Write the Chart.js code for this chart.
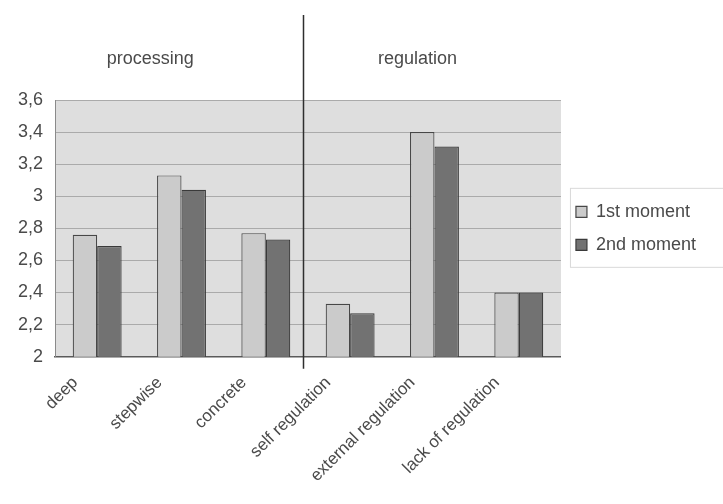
<!DOCTYPE html>
<html>
<head>
<meta charset="utf-8">
<script src="https://cdn.jsdelivr.net/npm/chart.js@4/dist/chart.umd.min.js"></script>
<style>
  html, body { margin: 0; padding: 0; background: #fff; }
  #wrap { width: 723px; height: 504px; }
</style>
</head>
<body>
<div id="wrap"><canvas id="myChart" width="723" height="504"></canvas></div>
<script>
const categories = ['deep', 'stepwise', 'concrete', 'self regulation', 'external regulation', 'lack of regulation'];
const moment1 = [2.76, 3.13, 2.77, 2.33, 3.40, 2.40];
const moment2 = [2.69, 3.04, 2.73, 2.27, 3.31, 2.40];
const groupTitles = ['processing', 'regulation'];

const fontFamily = '"Liberation Sans", Arial, Helvetica, sans-serif';
const textColor = '#4a4a4a';

// grey plot area, group titles and the divider line
const decorations = {
    id: 'decorations',
    beforeDraw(chart) {
        const { ctx, chartArea } = chart;
        ctx.save();
        ctx.fillStyle = '#dedede';
        ctx.fillRect(chartArea.left, chartArea.top, chartArea.right - chartArea.left, chartArea.bottom - chartArea.top);
        ctx.restore();
    },
    afterDraw(chart) {
        const { ctx, chartArea, scales } = chart;
        const x = scales.x;
        ctx.save();
        ctx.font = '18px ' + fontFamily;
        ctx.fillStyle = textColor;
        ctx.textAlign = 'center';
        ctx.textBaseline = 'middle';
        ctx.fillText(groupTitles[0], x.getPixelForValue(0.63), 59);
        ctx.fillText(groupTitles[1], x.getPixelForValue(3.8), 59);

        const lx = Math.round(x.getPixelForValue(2.44)) + 0.5;
        ctx.strokeStyle = '#2e2e2e';
        ctx.lineWidth = 1.5;
        ctx.beginPath();
        ctx.moveTo(lx, 15);
        ctx.lineTo(lx, chartArea.bottom + 12);
        ctx.stroke();

        // faint frame round the legend
        const lg = chart.legend;
        if (lg && lg.legendHitBoxes.length) {
            const first = lg.legendHitBoxes[0];
            const last = lg.legendHitBoxes[lg.legendHitBoxes.length - 1];
            ctx.strokeStyle = '#d9d9d9';
            ctx.lineWidth = 1;
            ctx.strokeRect(first.left - 5.5, first.top - 14.5, 200, last.top + last.height - first.top + 28);
        }
        ctx.restore();
    }
};

const ctx = document.getElementById('myChart').getContext('2d');
new Chart(ctx, {
    type: 'bar',
    data: {
        labels: categories,
        datasets: [{
            label: '1st moment',
            data: moment1,
            backgroundColor: '#cbcbcb',
            borderColor: '#474747',
            borderWidth: 1.2
        }, {
            label: '2nd moment',
            data: moment2,
            backgroundColor: '#727272',
            borderColor: '#3a3a3a',
            borderWidth: 1.2
        }]
    },
    options: {
        responsive: false,
        animation: false,
        layout: { padding: { top: 100, left: 6, right: 17, bottom: 10 } },
        datasets: {
            bar: { categoryPercentage: 0.58, barPercentage: 1.0 }
        },
        plugins: {
            legend: {
                position: 'right',
                fullSize: false,
                labels: {
                    boxWidth: 11,
                    boxHeight: 11,
                    padding: 15,
                    color: textColor,
                    font: { family: fontFamily, size: 18 }
                }
            },
            tooltip: { enabled: false }
        },
        scales: {
            x: {
                grid: { display: false },
                border: { color: '#5a5a5a', width: 1.5 },
                ticks: {
                    color: textColor,
                    font: { family: fontFamily, size: 17 },
                    minRotation: 45,
                    maxRotation: 45,
                    padding: 8,
                    labelOffset: -22
                }
            },
            y: {
                min: 2,
                max: 3.6,
                grid: { color: '#aaaaaa', lineWidth: 1, drawTicks: false },
                border: { color: '#8a8a8a' },
                ticks: {
                    stepSize: 0.2,
                    padding: 12,
                    color: textColor,
                    font: { family: fontFamily, size: 18 },
                    callback: v => String(Math.round(v * 10) / 10).replace('.', ',')
                }
            }
        }
    },
    plugins: [decorations]
});
</script>
</body>
</html>
